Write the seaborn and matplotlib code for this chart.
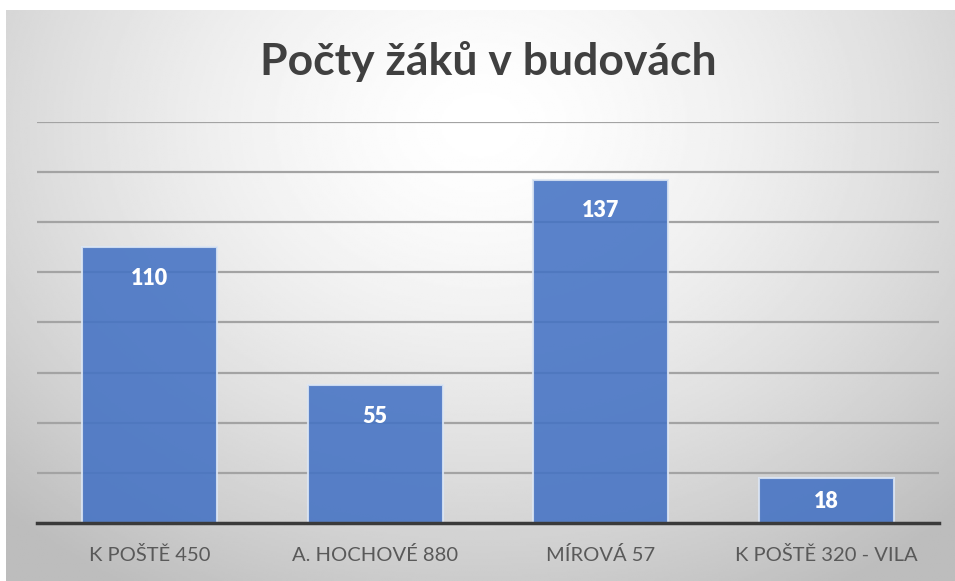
import numpy as np
import pandas as pd
import seaborn as sns
import matplotlib.pyplot as plt

budovy = ["K POŠTĚ 450", "A. HOCHOVÉ 880", "MÍROVÁ 57", "K POŠTĚ 320 - VILA"]
pocty = [110, 55, 137, 18]
titulek = "Počty žáků v budovách"

df = pd.DataFrame({"Budova": budovy, "Počet": pocty})

sns.set_style("white")
plt.rcParams['font.family'] = ['Lato', 'DejaVu Sans']

fig = plt.figure(figsize=(9.55, 5.81), dpi=100)
fig.patch.set_facecolor("white")

# background with radial gradient like in excel
bg = fig.add_axes([6 / 955, 0, 949 / 955, 571 / 581], zorder=0)
yy, xx = np.mgrid[0:1:300j, 0:1:500j]
r = np.sqrt(((xx - 0.5) / 0.72) ** 2 + ((yy - 0.2) / 0.95) ** 2)
grad = 1.0 - 0.26 * np.clip(r, 0, 1) ** 1.5
bg.imshow(grad, cmap="gray", vmin=0, vmax=1, aspect="auto", extent=[0, 1, 1, 0])
bg.axis("off")

ax = fig.add_axes([37 / 955, 58 / 581, 902 / 955, 401 / 581], zorder=1)
ax.set_facecolor("none")
sns.barplot(data=df, x="Budova", y="Počet", color="#4472C4", saturation=1, width=0.6, ax=ax,
            edgecolor="#dce6f4", linewidth=1.5, zorder=3)
for p in ax.patches:
    p.set_alpha(0.88)

# popisky uvnitr sloupcu
for i, v in enumerate(pocty):
    ypos = v - 12.5 if v > 30 else v / 2 - 0.5
    ax.text(i, ypos, str(v), ha="center", va="center", color="white",
            fontsize=15.5, fontweight="heavy", zorder=4)

ax.set_ylim(0, 160)
ax.set_xlim(-0.5, 3.5)
ax.set_yticks(np.arange(20, 161, 20))
ax.yaxis.grid(True, color="#a3a3a3", linewidth=1.6)
ax.set_axisbelow(True)
ax.tick_params(axis="y", left=False, labelleft=False)
ax.tick_params(axis="x", bottom=False, pad=13, labelsize=14.5, labelcolor="#595959")
ax.set_xlabel("")
ax.set_ylabel("")
for s in ["top", "left", "right"]:
    ax.spines[s].set_visible(False)
ax.spines["bottom"].set_color("#3a3a3a")
ax.spines["bottom"].set_linewidth(2.5)
ax.spines["bottom"].set_zorder(5)

fig.text(488 / 955, 1 - 62 / 581, titulek, ha="center", va="center",
         fontsize=32, fontweight="bold", color="#404040")

fig.savefig("out.png", dpi=100)
